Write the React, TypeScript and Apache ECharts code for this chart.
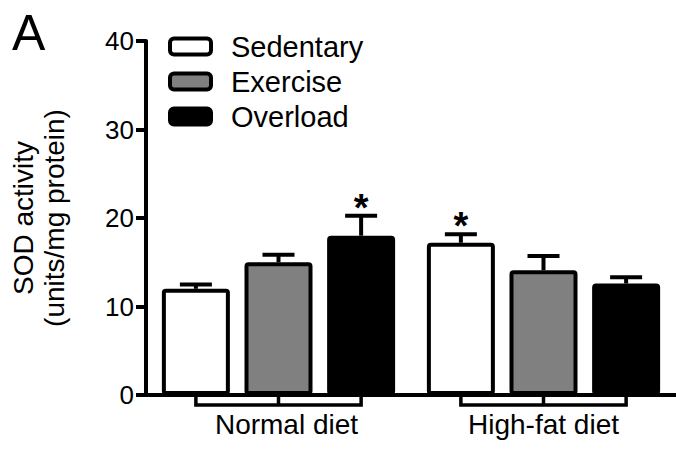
import React, { useEffect, useRef } from "react";
import * as echarts from "echarts";

const categories = ["Normal diet", "High-fat diet"];
const seriesNames = ["Sedentary", "Exercise", "Overload"];
const sedentary = [12.0, 17.2];
const exercise = [15.0, 14.1];
const overload = [18.0, 12.6];
const sedentaryErr = [0.5, 0.95];
const exerciseErr = [0.85, 1.6];
const overloadErr = [2.25, 0.7];
const sedentarySig = [false, true];
const exerciseSig = [false, false];
const overloadSig = [true, false];
const yMin = 0;
const yMax = 40;
const yInterval = 10;
const yAxisName = "SOD activity\n(units/mg protein)";
const panelLabel = "A";

const FONT = "'Liberation Sans', Arial, Helvetica, sans-serif";
const BAR_W = 68;
const BAR_GAP = 0.215;
const STEP = BAR_W * (1 + BAR_GAP);
const fills = ["#ffffff", "#808080", "#000000"];
const labelShift = [16, 0];

export default function App() {
  const ref = useRef<HTMLDivElement>(null);
  useEffect(() => {
    document.body.style.margin = "0";
    const chart = echarts.init(ref.current!, null, { renderer: "svg" });
    const means = [sedentary, exercise, overload];
    const errs = [sedentaryErr, exerciseErr, overloadErr];
    const sigs = [sedentarySig, exerciseSig, overloadSig];
    const errData: any[] = [];
    means.forEach((m, s) =>
      m.forEach((v, c) => errData.push([c, v, s, errs[s][c], sigs[s][c] ? 1 : 0]))
    );
    const option: any = {
      animation: false,
      grid: { left: 144, right: 0, top: 41, bottom: 55, containLabel: false },
      legend: {
        orient: "vertical",
        left: 168,
        top: 32,
        padding: 0,
        itemWidth: 41,
        itemHeight: 16,
        itemGap: 6,
        icon: "roundRect",
        selectedMode: false,
        itemStyle: { borderWidth: 4, borderColor: "#000" },
        textStyle: {
          fontFamily: FONT,
          fontSize: 29,
          color: "#000",
          lineHeight: 20,
          padding: [0, 0, 0, 15],
        },
        data: seriesNames,
      },
      graphic: [
        {
          type: "text",
          left: 12,
          top: 8,
          style: { text: panelLabel, fontSize: 50, fontFamily: FONT, fill: "#000" },
        },
      ],
      xAxis: {
        type: "category",
        data: categories.map((c, i) => ({
          value: c,
          textStyle: { padding: [0, 0, 0, labelShift[i]] },
        })),
        axisLine: { lineStyle: { color: "#000", width: 4 } },
        axisTick: { show: false },
        axisLabel: { fontFamily: FONT, fontSize: 28, color: "#000", margin: 15 },
      },
      yAxis: {
        type: "value",
        min: yMin,
        max: yMax,
        interval: yInterval,
        name: yAxisName,
        nameLocation: "middle",
        nameRotate: 90,
        nameGap: 76,
        nameTextStyle: { fontFamily: FONT, fontSize: 28, color: "#000", lineHeight: 31 },
        splitLine: { show: false },
        axisLine: { show: true, lineStyle: { color: "#000", width: 4 } },
        axisTick: { show: true, length: 10, lineStyle: { color: "#000", width: 4 } },
        axisLabel: { fontFamily: FONT, fontSize: 26, color: "#000", margin: 12 },
      },
      series: [
        ...seriesNames.map((name, s) => ({
          name,
          type: "bar",
          data: means[s],
          barWidth: BAR_W,
          barGap: `${BAR_GAP * 100}%`,
          itemStyle: {
            color: fills[s],
            borderColor: "#000",
            borderWidth: 4,
            borderRadius: 2,
          },
          z: 2,
        })),
        {
          type: "custom",
          name: "errors",
          data: errData,
          encode: { x: 0, y: 1 },
          z: 3,
          silent: true,
          renderItem: (params: any, api: any) => {
            const c = api.value(0);
            const m = api.value(1);
            const s = api.value(2);
            const e = api.value(3);
            const sig = api.value(4);
            const base = api.coord([c, m]);
            const top = api.coord([c, m + e]);
            const x = base[0] + (s - 1) * STEP;
            const children: any[] = [
              {
                type: "line",
                shape: { x1: x, y1: base[1], x2: x, y2: top[1] },
                style: { stroke: "#000", lineWidth: 4 },
              },
              {
                type: "line",
                shape: { x1: x - 16, y1: top[1], x2: x + 16, y2: top[1] },
                style: { stroke: "#000", lineWidth: 4 },
              },
            ];
            if (sig) {
              children.push({
                type: "text",
                x,
                y: top[1] - 8,
                style: {
                  text: "*",
                  fontSize: 38,
                  fontWeight: "bold",
                  fontFamily: FONT,
                  fill: "#000",
                  align: "center",
                  verticalAlign: "middle",
                },
              });
            }
            return { type: "group", children };
          },
        },
        {
          type: "custom",
          name: "brackets",
          data: categories.map((_, i) => [i, 0]),
          encode: { x: 0, y: 1 },
          z: 3,
          silent: true,
          renderItem: (params: any, api: any) => {
            const p = api.coord([api.value(0), 0]);
            const x = p[0];
            const y0 = p[1] + 2;
            const y1 = p[1] + 10;
            return {
              type: "group",
              children: [
                {
                  type: "polyline",
                  shape: {
                    points: [
                      [x - STEP, y0],
                      [x - STEP, y1],
                      [x + STEP, y1],
                      [x + STEP, y0],
                    ],
                  },
                  style: { stroke: "#000", lineWidth: 3.5, fill: "none" },
                },
                {
                  type: "line",
                  shape: { x1: x, y1: y0, x2: x, y2: y1 },
                  style: { stroke: "#000", lineWidth: 3.5 },
                },
              ],
            };
          },
        },
      ],
    };
    chart.setOption(option);
    return () => chart.dispose();
  }, []);
  return (
    <div
      ref={ref}
      style={{ position: "absolute", left: 0, top: 0, width: 676, height: 450, background: "#fff" }}
    />
  );
}
